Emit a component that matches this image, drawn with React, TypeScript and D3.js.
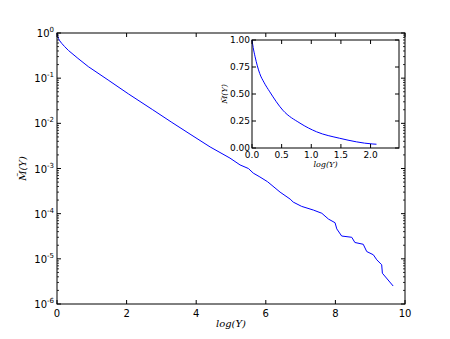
import React from "react";
import * as d3 from "d3";

// main curve: M(Y) against log(Y), log y-axis
const mainX = [0, 0.02, 0.04, 0.08, 0.135, 0.22, 0.33, 0.6, 0.9, 1.47, 2.05, 2.75, 3.3, 3.85, 4.4, 4.97, 5.26, 5.5, 5.64, 5.83, 6.05, 6.41, 6.7, 6.79, 7.03, 7.37, 7.61, 7.8, 7.99, 8.04, 8.18, 8.47, 8.56, 8.8, 8.9, 9.09, 9.19, 9.33, 9.35, 9.66];
const mainM = [1.0, 0.86, 0.76, 0.67, 0.59, 0.5, 0.41, 0.275, 0.18, 0.091, 0.045, 0.02, 0.0105, 0.0056, 0.003, 0.0017, 0.0012, 0.001, 0.00079, 0.00065, 0.00051, 0.0003, 0.00021, 0.00018, 0.000145, 0.00012, 0.000102, 0.000076, 0.000063, 0.000046, 0.000032, 0.00003, 0.000023, 0.000021, 0.0000145, 0.0000123, 0.0000095, 0.0000074, 0.0000048, 0.0000025];

// inset: same quantity on linear axes
const insetX = [0, 0.02, 0.05, 0.13, 0.2, 0.3, 0.52, 0.81, 1.09, 1.48, 2.04, 2.1];
const insetM = [1.0, 0.93, 0.85, 0.69, 0.61, 0.52, 0.35, 0.23, 0.15, 0.09, 0.037, 0.035];

const mainXTicks = [0, 2, 4, 6, 8, 10];
const mainYExps = [0, -1, -2, -3, -4, -5, -6];
const insetXTicks = [0, 0.5, 1.0, 1.5, 2.0];
const insetYTicks = [0, 0.25, 0.5, 0.75, 1.0];

const font = "DejaVu Sans, sans-serif";
const mathFont = "DejaVu Serif, serif";

export default function App() {
  const W = 450, H = 339;
  const m = { left: 57, right: 405, top: 33, bottom: 304 };
  const ins = { left: 252, right: 399, top: 40, bottom: 148 };

  const x = d3.scaleLinear().domain([0, 10]).range([m.left, m.right]);
  const y = d3.scaleLog().domain([1e-6, 1]).range([m.bottom, m.top]);
  const ix = d3.scaleLinear().domain([0, 2.48]).range([ins.left, ins.right]);
  const iy = d3.scaleLinear().domain([0, 1]).range([ins.bottom, ins.top]);

  const mainLine = d3.line<number>().x((d, i) => x(mainX[i])).y((d) => y(d));
  const insetLine = d3
    .line<number>()
    .x((d, i) => ix(insetX[i]))
    .y((d) => iy(d))
    .curve(d3.curveMonotoneX);

  // minor log ticks
  const minor: number[] = [];
  for (let e = -6; e < 0; e++) for (let k = 2; k <= 9; k++) minor.push(k * Math.pow(10, e));

  const fmt = d3.format(".2f");

  return (
    <svg width={W} height={H} style={{ position: "fixed", left: 0, top: 0 }}>
      <rect width={W} height={H} fill="#fff" />
      {/* main plot */}
      <path d={mainLine(mainM) || ""} fill="none" stroke="#0000ff" strokeWidth={1} strokeLinejoin="round" />
      <rect x={m.left} y={m.top} width={m.right - m.left} height={m.bottom - m.top} fill="none" stroke="#000" strokeWidth={1} />
      {mainXTicks.map((t) => (
        <g key={"mx" + t}>
          <line x1={x(t)} x2={x(t)} y1={m.bottom} y2={m.bottom - 4} stroke="#000" />
          <line x1={x(t)} x2={x(t)} y1={m.top} y2={m.top + 4} stroke="#000" />
          <text x={x(t)} y={m.bottom + 13} fontSize={10} fontFamily={font} textAnchor="middle">{t}</text>
        </g>
      ))}
      {mainYExps.map((e) => (
        <g key={"my" + e}>
          <line x1={m.left} x2={m.left + 4} y1={y(Math.pow(10, e))} y2={y(Math.pow(10, e))} stroke="#000" />
          <line x1={m.right} x2={m.right - 4} y1={y(Math.pow(10, e))} y2={y(Math.pow(10, e))} stroke="#000" />
          <text x={m.left - 3} y={y(Math.pow(10, e)) + 4} fontSize={10} fontFamily={font} textAnchor="end">
            10<tspan fontSize={7} dy={-5}>{e}</tspan>
          </text>
        </g>
      ))}
      {minor.map((v, i) => (
        <g key={"mn" + i}>
          <line x1={m.left} x2={m.left + 2} y1={y(v)} y2={y(v)} stroke="#000" strokeWidth={0.8} />
          <line x1={m.right} x2={m.right - 2} y1={y(v)} y2={y(v)} stroke="#000" strokeWidth={0.8} />
        </g>
      ))}
      <text x={(m.left + m.right) / 2} y={327} fontSize={10} fontFamily={mathFont} fontStyle="italic" textAnchor="middle">log(Y)</text>
      <text transform={`translate(26,${(m.top + m.bottom) / 2}) rotate(-90)`} fontSize={10} fontFamily={mathFont} fontStyle="italic" textAnchor="middle">M̃(Y)</text>

      {/* inset */}
      <rect x={ins.left} y={ins.top} width={ins.right - ins.left} height={ins.bottom - ins.top} fill="#fff" />
      <path d={insetLine(insetM) || ""} fill="none" stroke="#0000ff" strokeWidth={1} />
      <rect x={ins.left} y={ins.top} width={ins.right - ins.left} height={ins.bottom - ins.top} fill="none" stroke="#000" strokeWidth={1} />
      {insetXTicks.map((t) => (
        <g key={"ix" + t}>
          <line x1={ix(t)} x2={ix(t)} y1={ins.bottom} y2={ins.bottom - 4} stroke="#000" />
          <line x1={ix(t)} x2={ix(t)} y1={ins.top} y2={ins.top + 4} stroke="#000" />
          <text x={ix(t)} y={ins.bottom + 10} fontSize={9} fontFamily={font} textAnchor="middle">{t.toFixed(1)}</text>
        </g>
      ))}
      {insetYTicks.map((t) => (
        <g key={"iy" + t}>
          <line x1={ins.left} x2={ins.left + 4} y1={iy(t)} y2={iy(t)} stroke="#000" />
          <line x1={ins.right} x2={ins.right - 4} y1={iy(t)} y2={iy(t)} stroke="#000" />
          <text x={ins.left - 2} y={iy(t) + 2.5} fontSize={9} fontFamily={font} textAnchor="end">{fmt(t)}</text>
        </g>
      ))}
      <text x={(ins.left + ins.right) / 2} y={167} fontSize={8} fontFamily={mathFont} fontStyle="italic" textAnchor="middle">log(Y)</text>
      <text transform={`translate(227,${(ins.top + ins.bottom) / 2}) rotate(-90)`} fontSize={8} fontFamily={mathFont} fontStyle="italic" textAnchor="middle">M̃(Y)</text>
    </svg>
  );
}
